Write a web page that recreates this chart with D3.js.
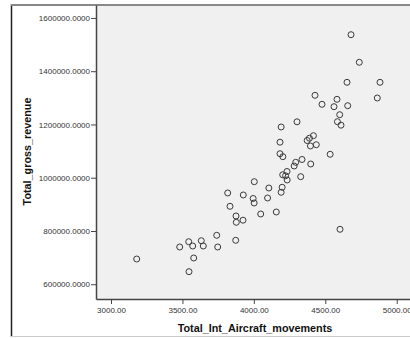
<!DOCTYPE html>
<html>
<head>
<meta charset="utf-8">
<script src="https://cdn.jsdelivr.net/npm/d3@7"></script>
<style>
  html, body { margin: 0; padding: 0; background: #fff; }
  svg { display: block; }
</style>
</head>
<body>
<svg id="chart" width="410" height="338"></svg>
<script>
// Data
const movements = [
  4680, 4738, 4652, 4883, 4864, 4428, 4477, 4582, 4561, 4657,
  4601, 4585, 4610, 4191, 4302, 4183, 4417, 4389, 4373, 4396,
  4437, 4534, 4183, 4203, 4337, 4293, 4282, 4398, 4232, 4202,
  4222, 4233, 4328, 4003, 4105, 4198, 4191, 3817, 3926, 3995,
  4002, 4096, 3833, 4157, 4048, 3875, 3877, 3924, 4603, 3740,
  3873, 3544, 3632, 3572, 3646, 3481, 3747, 3579, 3180, 3546
];
const revenue = [
  1537100, 1433450, 1358300, 1358300, 1299400, 1309500, 1275700, 1294500, 1266700, 1270500,
  1236700, 1210400, 1197300, 1190500, 1210000, 1133400, 1157800, 1148400, 1139800, 1119200,
  1124000, 1088000, 1090200, 1079000, 1068500, 1057900, 1044000, 1051600, 1023400, 1011000,
  1007250, 991500, 1003900, 985100, 961400, 964100, 945300, 942700, 935200, 922000,
  905100, 923900, 892700, 871300, 863800, 856300, 832600, 840500, 806400, 783800,
  765000, 759800, 763500, 743600, 743600, 739900, 739900, 698600, 694800, 647200
];
const xTicks = [3000, 3500, 4000, 4500, 5000];
const yTicks = [600000, 800000, 1000000, 1200000, 1400000, 1600000];
const xTitle = "Total_Int_Aircraft_movements";
const yTitle = "Total_gross_revenue";

const svg = d3.select("#chart");
const plot = { left: 96, top: 5, right: 414, bottom: 299 };

const x = d3.scaleLinear().domain([2895, 5121]).range([plot.left, plot.right]);
const y = d3.scaleLinear().domain([544600, 1648600]).range([plot.bottom, plot.top]);

// outer frame
svg.append("line").attr("x1", 11.5).attr("x2", 11.5).attr("y1", 4).attr("y2", 337)
  .attr("stroke", "#222").attr("stroke-width", 1.5);
svg.append("line").attr("x1", 11).attr("x2", 410).attr("y1", 336.5).attr("y2", 336.5)
  .attr("stroke", "#ccc").attr("stroke-width", 1);

// plot background
svg.append("rect")
  .attr("x", plot.left).attr("y", plot.top)
  .attr("width", plot.right - plot.left).attr("height", plot.bottom - plot.top)
  .attr("fill", "#f0f0f0");

// top frame line
svg.append("line").attr("x1", 11).attr("x2", 410).attr("y1", 5).attr("y2", 5)
  .attr("stroke", "#888").attr("stroke-width", 2);

const fontFam = "'Liberation Sans', Arial, sans-serif";

// axes
const xAxis = d3.axisBottom(x).tickValues(xTicks).tickSize(5).tickSizeOuter(0)
  .tickFormat(d3.format(".2f"));
const gx = svg.append("g").attr("transform", `translate(0,${plot.bottom})`).call(xAxis);
gx.select(".domain").attr("stroke", "#444").attr("stroke-width", 1.5);
gx.selectAll(".tick line").attr("stroke", "#444");
gx.selectAll(".tick text").attr("fill", "#333").attr("font-size", 8)
  .attr("font-family", fontFam).attr("dy", "0.75em").attr("y", 8);

const yAxis = d3.axisLeft(y).tickValues(yTicks).tickSize(5).tickSizeOuter(0)
  .tickFormat(d3.format(".4f"));
const gy = svg.append("g").attr("transform", `translate(${plot.left},0)`).call(yAxis);
gy.select(".domain").attr("stroke", "#444").attr("stroke-width", 1.5);
gy.selectAll(".tick line").attr("stroke", "#444");
gy.selectAll(".tick text").attr("fill", "#333").attr("font-size", 8)
  .attr("font-family", fontFam).attr("x", -6);

// points
svg.append("g").selectAll("circle")
  .data(movements.map((m, i) => [m, revenue[i]]))
  .join("circle")
  .attr("cx", d => x(d[0]))
  .attr("cy", d => y(d[1]))
  .attr("r", 3)
  .attr("fill", "none")
  .attr("stroke", "#3a3a3a")
  .attr("stroke-width", 1);

// titles
svg.append("text")
  .attr("x", 255).attr("y", 332)
  .attr("text-anchor", "middle")
  .attr("font-family", fontFam).attr("font-weight", "bold").attr("font-size", 10.8)
  .attr("fill", "#111")
  .text(xTitle);

svg.append("text")
  .attr("transform", `translate(31,151.5) rotate(-90)`)
  .attr("text-anchor", "middle")
  .attr("font-family", fontFam).attr("font-weight", "bold").attr("font-size", 10.8)
  .attr("fill", "#111")
  .text(yTitle);
</script>
</body>
</html>
